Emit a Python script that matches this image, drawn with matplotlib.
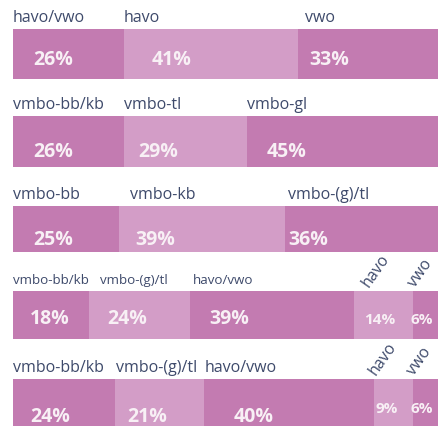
import matplotlib
matplotlib.use("Agg")
import matplotlib.pyplot as plt

# ---- data ----
labels_r1 = ["havo/vwo", "havo", "vwo"]
values_r1 = [26, 41, 33]
labels_r2 = ["vmbo-bb/kb", "vmbo-tl", "vmbo-gl"]
values_r2 = [26, 29, 45]
labels_r3 = ["vmbo-bb", "vmbo-kb", "vmbo-(g)/tl"]
values_r3 = [25, 39, 36]
labels_r4 = ["vmbo-bb/kb", "vmbo-(g)/tl", "havo/vwo", "havo", "vwo"]
values_r4 = [18, 24, 39, 14, 6]
labels_r5 = ["vmbo-bb/kb", "vmbo-(g)/tl", "havo/vwo", "havo", "vwo"]
values_r5 = [24, 21, 40, 9, 6]

rows_labels = [labels_r1, labels_r2, labels_r3, labels_r4, labels_r5]
rows_values = [values_r1, values_r2, values_r3, values_r4, values_r5]

# ---- layout (pixels) ----
W, H = 438, 427
X0, X1 = 13, 438
bar_top = [30, 117, 207, 292, 380]
bar_bot = [80, 168, 253, 340, 434]
pct_base = [35, 40, 38, 32, 42]          # baseline below bar top for big % labels
small_base = [None, None, None, 32, 33]
pct_off = [[20, 28, 12], [20, 15, 20], [20, 16, 3], [17, 19, 20, 10, -2], [17, 12, 29, 1, -2]]
lab_off = [[0, 0, 7], [0, 0, 0], [0, 11, 3], [0, 11, 3, 15, 2], [0, 1, 0, 1, 2]]
lab_size = [11.5, 11.5, 11.5, 9.6, 11.5]

DARK = "#c37bb1"
LIGHT = "#d39dc7"
TXT = "#3e4a6b"
PCT = "#f8f0f5"
FONT = "Open Sans"

fig = plt.figure(figsize=(W / 100, H / 100), dpi=100)
fig.patch.set_facecolor("white")

for r, (labs, vals) in enumerate(zip(rows_labels, rows_values)):
    top, bot = bar_top[r], bar_bot[r]
    ax = fig.add_axes([X0 / W, (H - bot) / H, (X1 - X0) / W, (bot - top) / H])
    total = sum(vals)
    ax.set_xlim(0, total)
    ax.set_ylim(0, 1)
    ax.axis("off")
    left = 0
    for i, (lab, v) in enumerate(zip(labs, vals)):
        col = DARK if i % 2 == 0 else LIGHT
        ax.barh(0.5, v, left=left, height=1.0, color=col, edgecolor="none")
        small = len(vals) == 5 and i >= 3
        # percentage text
        ax.annotate(f"{v}%", xy=(left, 1), xycoords=("data", "axes fraction"),
                    xytext=(pct_off[r][i], -(small_base[r] if small else pct_base[r])),
                    textcoords="offset pixels", ha="left", va="baseline",
                    fontsize=11 if small else 14, fontweight="bold",
                    color=PCT, family=FONT, annotation_clip=False)
        # category label
        if small:
            ax.annotate(lab, xy=(left, 1), xycoords=("data", "axes fraction"),
                        xytext=(lab_off[r][i], 4), textcoords="offset pixels",
                        ha="left", va="baseline", rotation=55, rotation_mode="anchor",
                        fontsize=11.5, color=TXT, family=FONT, annotation_clip=False)
        else:
            ax.annotate(lab, xy=(left, 1), xycoords=("data", "axes fraction"),
                        xytext=(lab_off[r][i], 8), textcoords="offset pixels",
                        ha="left", va="baseline", fontsize=lab_size[r],
                        color=TXT, family=FONT, annotation_clip=False)
        left += v

fig.savefig("out.png", dpi=100, facecolor="white")
